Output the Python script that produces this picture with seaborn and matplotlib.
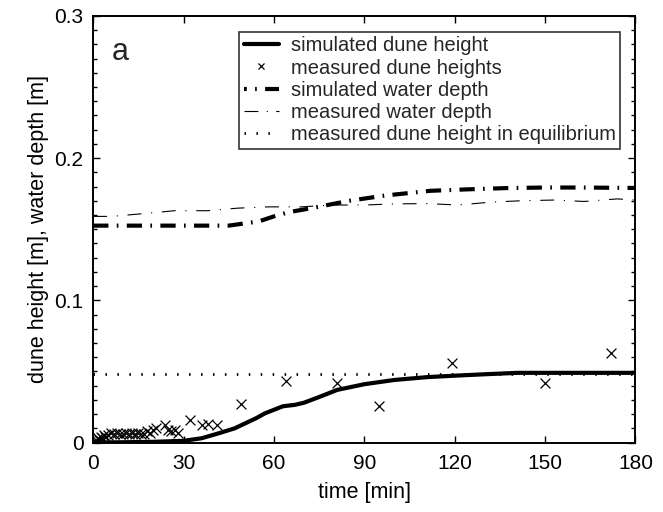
import matplotlib
matplotlib.use("Agg")
import matplotlib.pyplot as plt
from matplotlib.lines import Line2D
from matplotlib.ticker import MultipleLocator
import seaborn as sns
import pandas as pd

# ---- data ----
sim_dune_t = [0, 10, 20, 30, 36, 42, 47, 51, 54, 57, 60, 63, 67, 70, 75, 81, 90, 100, 111, 120, 130, 141, 180]
sim_dune_h = [0, 0.0002, 0.0005, 0.0012, 0.003, 0.0067, 0.010, 0.014, 0.017, 0.0205, 0.023, 0.0255,
              0.0265, 0.028, 0.032, 0.037, 0.041, 0.044, 0.046, 0.047, 0.048, 0.049, 0.049]

meas_dune_t = [0.5, 1, 1.5, 2, 2.5, 3, 3.5, 4, 5, 6, 7, 8, 9, 10, 11, 12, 13, 14, 15, 16, 17, 18, 19,
               20, 21, 24, 25, 26, 27, 28, 32, 36, 38, 41, 49, 64, 81, 95, 119, 150, 172]
meas_dune_h = [0.001, 0.002, 0.003, 0.002, 0.004, 0.003, 0.005, 0.004, 0.005, 0.007, 0.006, 0.007,
               0.006, 0.006, 0.007, 0.006, 0.007, 0.006, 0.007, 0.006, 0.006, 0.008, 0.007, 0.009,
               0.010, 0.012, 0.009, 0.008, 0.009, 0.007, 0.0158, 0.012, 0.013, 0.012, 0.027, 0.043,
               0.042, 0.026, 0.056, 0.042, 0.063]

sim_depth_t = [0, 45, 50, 55, 60, 65, 73, 85, 97, 112, 124, 137, 150, 162, 180]
sim_depth_d = [0.1525, 0.1525, 0.154, 0.1555, 0.159, 0.162, 0.165, 0.170, 0.1737, 0.177, 0.178,
               0.1789, 0.1793, 0.1793, 0.179]

meas_depth_t = [0, 6, 17, 27, 38, 48, 58, 69, 79, 90, 100, 111, 121, 132, 142, 153, 163, 174, 180]
meas_depth_d = [0.159, 0.159, 0.161, 0.163, 0.163, 0.1648, 0.1657, 0.1657, 0.167, 0.167, 0.1678,
                0.168, 0.167, 0.169, 0.170, 0.1705, 0.1695, 0.1713, 0.1705]

equil_t = [0, 180]
equil_h = [0.048, 0.048]

labels = ["simulated dune height", "measured dune heights", "simulated water depth",
          "measured water depth", "measured dune height in equilibrium"]

x_ticks = [0, 30, 60, 90, 120, 150, 180]
y_ticks = [0, 0.1, 0.2, 0.3]
y_ticklabels = ["0", "0.1", "0.2", "0.3"]

# ---- style ----
sns.set_theme(style="ticks")
plt.rcParams["font.family"] = ["Liberation Sans", "DejaVu Sans"]
plt.rcParams["lines.scale_dashes"] = False

fig = plt.figure(figsize=(6.63, 5.12), dpi=100)
ax = fig.add_axes([0.1405, 0.1357, 0.818, 0.8333])

ls_simdepth = (0, (11, 6, 1.2, 6))
ls_measdepth = (0, (10, 7, 0.8, 7))
ls_equil = (0, (1.1, 7.5))

sns.lineplot(data=pd.DataFrame({"t": sim_dune_t, "h": sim_dune_h}), x="t", y="h", ax=ax,
             color="black", lw=3.0, sort=False, estimator=None)
sns.scatterplot(data=pd.DataFrame({"t": meas_dune_t, "h": meas_dune_h}), x="t", y="h", ax=ax,
                color="black", marker="x", s=50, linewidth=0.9)
sns.lineplot(data=pd.DataFrame({"t": sim_depth_t, "d": sim_depth_d}), x="t", y="d", ax=ax,
             color="black", lw=3.0, linestyle=ls_simdepth, sort=False, estimator=None)
sns.lineplot(data=pd.DataFrame({"t": meas_depth_t, "d": meas_depth_d}), x="t", y="d", ax=ax,
             color="black", lw=0.8, linestyle=ls_measdepth, sort=False, estimator=None)
sns.lineplot(data=pd.DataFrame({"t": equil_t, "h": equil_h}), x="t", y="h", ax=ax,
             color="black", lw=2.0, linestyle=ls_equil, sort=False, estimator=None)

ax.set_xlim(0, 180)
ax.set_ylim(0, 0.3)
ax.set_xticks(x_ticks)
ax.set_yticks(y_ticks)
ax.set_yticklabels(y_ticklabels)
ax.yaxis.set_minor_locator(MultipleLocator(0.01))
ax.tick_params(which="both", direction="in", top=True, right=True, colors="black",
               labelsize=15, width=1.0)
ax.tick_params(which="major", length=5)
ax.tick_params(axis="x", which="major", pad=8)
ax.tick_params(axis="y", which="major", pad=7)
ax.tick_params(which="minor", length=3)
ax.tick_params(axis="x", which="minor", bottom=False, top=False)
for sp in ax.spines.values():
    sp.set_linewidth(1.4)
    sp.set_color("black")
    sp.set_visible(True)

ax.set_xlabel("time [min]", fontsize=15.5, color="black", labelpad=7)
ax.set_ylabel("dune height [m], water depth [m]", fontsize=15.5, color="black", labelpad=4)
ax.text(0.035, 0.95, "a", transform=ax.transAxes, fontsize=22, va="top", ha="left")

handles = [
    Line2D([], [], color="black", lw=3.0),
    Line2D([], [], color="black", marker="x", ls="none", markersize=5, mew=0.9),
    Line2D([], [], color="black", lw=3.0, linestyle=(9, (11, 6, 1.2, 6))),
    Line2D([], [], color="black", lw=0.8, linestyle=(0, (10, 6, 0.8, 6))),
    Line2D([], [], color="black", lw=2.0, linestyle=ls_equil),
]
leg = ax.legend(handles, labels, loc="upper right", bbox_to_anchor=(0.972, 0.9625),
                borderaxespad=0, fontsize=14.5, frameon=True, fancybox=False,
                handlelength=1.75, handletextpad=0.6, labelspacing=0.16, borderpad=0.22)
leg.get_frame().set_edgecolor("black")
leg.get_frame().set_linewidth(1.2)

fig.savefig("out.png", dpi=100)
